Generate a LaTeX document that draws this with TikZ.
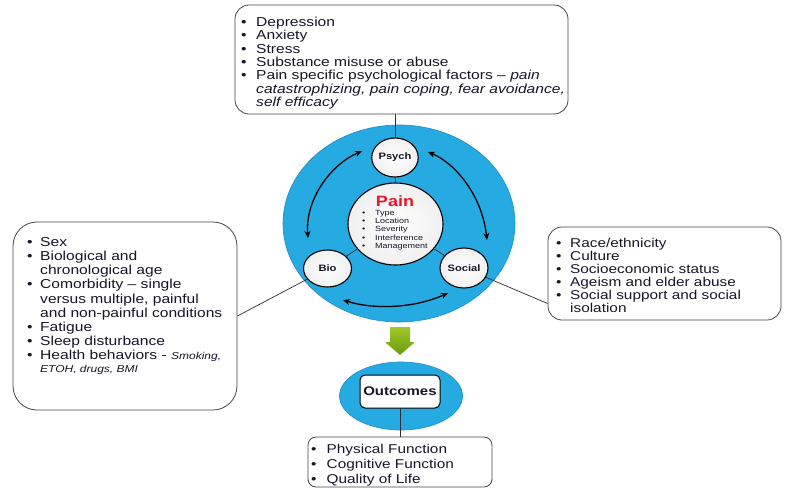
\documentclass[tikz,border=0pt]{standalone}
\usepackage{fontspec}
\setmainfont[FakeStretch=1.2]{Liberation Sans}
\usetikzlibrary{shapes.geometric,arrows.meta,calc}

\definecolor{ringblue}{RGB}{38,170,226}
\definecolor{ringedge}{RGB}{30,140,200}
\definecolor{txt}{RGB}{22,22,40}
\definecolor{painred}{RGB}{232,22,40}
\definecolor{framegray}{RGB}{70,70,70}
\definecolor{arrowtop}{RGB}{160,200,40}
\definecolor{arrowbot}{RGB}{105,155,15}

\newlength\bulw
\setlength\bulw{14pt}
\newcommand\bul{\makebox[\bulw][l]{\textbullet}}
\newcommand\ind{\hspace*{\bulw}}

\begin{document}
\begin{tikzpicture}[x=1pt,y=-1pt,
  infobox/.style={draw=framegray, line width=0.8pt, fill=white, rectangle, inner sep=0pt},
  listtext/.style={anchor=north west, inner sep=0pt, align=left, text=txt},
  bluering/.style={ellipse, fill=ringblue, draw=ringedge, line width=0.6pt, inner sep=0pt},
  disc/.style={ellipse, draw=black, line width=1.1pt, inner color=white, outer color=gray!12,
    inner sep=0pt, text=txt, font=\fontsize{9.3}{10}\selectfont\bfseries},
  conn/.style={draw=gray!35!black, line width=0.7pt},
  twoway/.style={{Stealth[length=7pt,width=6pt]}-{Stealth[length=7pt,width=6pt]}, line width=1.3pt, black}
]
\useasboundingbox (0,0) rectangle (787,488);

% big blue ring with the three factor discs
\node[bluering, minimum width=232pt, minimum height=197pt] (ring) at (399,223.5) {};
\node[disc, minimum width=95pt, minimum height=82pt] (pain) at (395.5,224) {};
\node[disc, minimum width=46pt, minimum height=39pt] (psych) at (395,157.5) {Psych};
\node[disc, minimum width=48pt, minimum height=37pt] (bio) at (327.5,268.5) {Bio};
\node[disc, minimum width=48pt, minimum height=40pt] (social) at (464,268) {Social};

\draw[conn] (psych) -- (pain);
\draw[conn] (pain) -- (bio);
\draw[conn] (pain) -- (social);

% contents of the pain disc
\node[anchor=base, inner sep=0pt, text=painred, font=\fontsize{15}{16}\selectfont\bfseries] (painlabel) at (395,206) {Pain};
\node[listtext, font=\fontsize{7.5}{8.3}\selectfont\setlength\bulw{13pt}] (painitems) at (362,210)
  {\bul Type\\ \bul Location\\ \bul Severity\\ \bul Interference\\ \bul Management};

% curved two-way arrows between the discs
\coordinate (pa) at (362,151);
\coordinate (pb) at (428,152);
\coordinate (ba) at (308,238);
\coordinate (bb) at (343,300);
\coordinate (sa) at (487,240);
\coordinate (sb) at (448,293);
\draw[twoway] (ba) .. controls (305,200) and (330,165) .. (pa);
\draw[twoway] (pb) .. controls (455,163) and (482,195) .. (sa);
\draw[twoway] (bb) .. controls (375,310) and (415,308) .. (sb);

% psychological factors
\node[infobox, rounded corners=14pt, minimum width=333pt, minimum height=109pt] (topbox) at (401.5,59.5) {};
\node[listtext, font=\fontsize{13}{13.3}\selectfont\setlength\bulw{15pt}] (toptext) at (241,17)
  {\bul Depression\\
   \bul Anxiety\\
   \bul Stress\\
   \bul Substance misuse or abuse\\
   \bul Pain specific psychological factors -- \textit{pain}\\
   \ind\textit{catastrophizing, pain coping, fear avoidance,}\\
   \ind\textit{self efficacy}};
\draw[conn] (psych.north) -- (psych.north |- topbox.south);

% biological factors
\node[infobox, rounded corners=24pt, minimum width=224pt, minimum height=188pt] (leftbox) at (125,316) {};
\node[listtext, font=\fontsize{13}{14.2}\selectfont\setlength\bulw{13pt}] (lefttext) at (27,237)
  {\bul Sex\\
   \bul Biological and\\
   \ind chronological age\\
   \bul Comorbidity -- single\\
   \ind versus multiple, painful\\
   \ind and non-painful conditions\\
   \bul Fatigue\\
   \bul Sleep disturbance\\
   \bul Health behaviors - {\fontsize{10}{11}\selectfont\textit{Smoking,}}\\[-1.5pt]
   \ind{\fontsize{10}{11}\selectfont\textit{ETOH, drugs, BMI}}};
\draw[conn] (bio) -- (leftbox.east);

% social factors
\node[infobox, rounded corners=14pt, minimum width=233pt, minimum height=93pt] (rightbox) at (664.5,273.5) {};
\node[listtext, font=\fontsize{12.8}{13}\selectfont\setlength\bulw{14pt}] (righttext) at (556,238)
  {\bul Race/ethnicity\\
   \bul Culture\\
   \bul Socioeconomic status\\
   \bul Ageism and elder abuse\\
   \bul Social support and social\\
   \ind isolation};
\draw[conn] (social) -- ($(rightbox.south west)!0.18!(rightbox.north west)$);

% downward arrow to the outcomes
\shade[top color=arrowtop, bottom color=arrowbot]
  (390,327) -- (410,327) -- (410,342) -- (415,342) -- (400,355) -- (385,342) -- (390,342) -- cycle;

% outcomes
\node[bluering, minimum width=123pt, minimum height=68pt] (outring) at (401,396) {};
\node[draw=black, line width=1pt, fill=white, rounded corners=5pt, minimum width=80pt, minimum height=33pt,
  inner sep=0pt, text=txt, font=\fontsize{12.5}{13}\selectfont\bfseries] (outbox) at (400,391.5) {Outcomes};

\node[infobox, rounded corners=8pt, minimum width=184pt, minimum height=50pt] (bottombox) at (400,462) {};
\node[listtext, font=\fontsize{12.8}{15}\selectfont\setlength\bulw{15.5pt}] (bottomtext) at (311,444)
  {\bul Physical Function\\
   \bul Cognitive Function\\
   \bul Quality of Life};
\draw[conn] (outbox) -- (bottombox.north);
\end{tikzpicture}
\end{document}
